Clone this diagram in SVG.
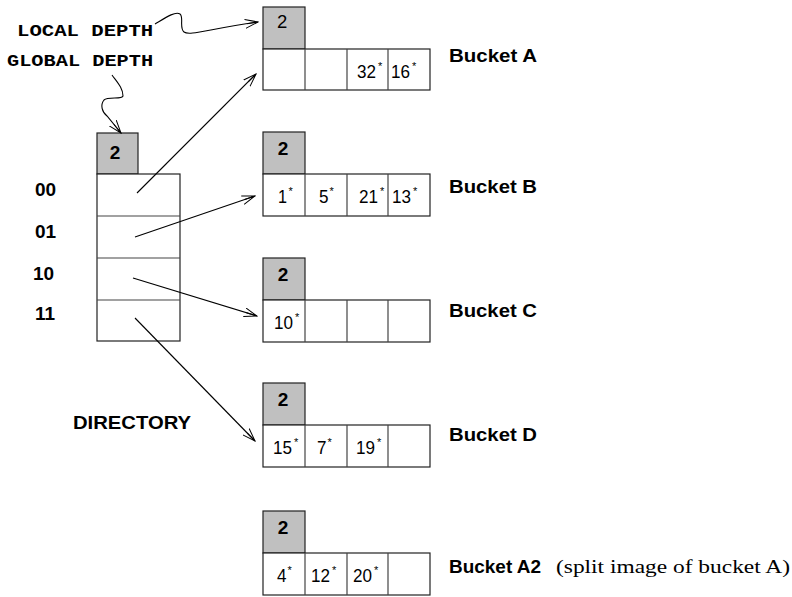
<svg xmlns="http://www.w3.org/2000/svg" width="792" height="597" viewBox="0 0 792 597">
<style>
  .hdr { fill: #c0c0c0; stroke: #222; stroke-width: 1.2; }
  .cell { fill: #fff; stroke: #222; stroke-width: 1.2; }
  .div { stroke: #444; stroke-width: 1.2; }
  .big { font-family: "Liberation Sans", Arial, sans-serif; font-weight: bold; font-size: 19px; fill: #000; }
  .two { font-family: "Liberation Sans", Arial, sans-serif; font-weight: bold; font-size: 19px; fill: #000; text-anchor: middle; }
  .lbl { font-family: "Liberation Sans", Arial, sans-serif; font-weight: bold; font-size: 18px; fill: #000; }
  .num { font-family: "Liberation Sans", Arial, sans-serif; font-size: 18.5px; fill: #000; }
  .ast { font-family: "Liberation Sans", Arial, sans-serif; font-size: 11px; fill: #000; }
  .mono { font-family: "Liberation Mono", "Courier New", monospace; font-weight: bold; font-size: 16px; fill: #000; }
  .serif { font-family: "Liberation Serif", "Times New Roman", serif; font-size: 19px; fill: #000; }
  .conn { fill: none; stroke: #000; stroke-width: 1.1; }
</style>
<defs>
  <marker id="arr" viewBox="0 0 14 10" refX="13" refY="5" markerWidth="14" markerHeight="10" markerUnits="userSpaceOnUse" orient="auto">
    <path d="M0,0.5 L13,5 L0,9.5 M2,5 L13,5" fill="none" stroke="#000" stroke-width="1"/>
  </marker>
</defs>

<!-- labels for depth -->
<g id="label-local-depth">
  <text class="mono" transform="translate(17,36) scale(1.29,1)" x="0" y="0">LOCAL DEPTH</text>
</g>
<g id="label-global-depth">
  <text class="mono" transform="translate(7,66) scale(1.27,1)" x="0" y="0">GLOBAL DEPTH</text>
</g>

<!-- Directory -->
<g id="directory">
  <rect class="hdr" x="97" y="133" width="41" height="41"/>
  <text class="two" x="115" y="159" font-size="20">2</text>
  <rect class="cell" x="97" y="174" width="83" height="167"/>
  <line class="div" x1="97" y1="216" x2="180" y2="216"/>
  <line class="div" x1="97" y1="258" x2="180" y2="258"/>
  <line class="div" x1="97" y1="300" x2="180" y2="300"/>
  <text class="big" x="35" y="196">00</text>
  <text class="big" x="35" y="238">01</text>
  <text class="big" x="33" y="280">10</text>
  <text class="big" x="35" y="320">11</text>
  <text class="lbl" x="73" y="429" textLength="118" lengthAdjust="spacingAndGlyphs">DIRECTORY</text>
</g>

<!-- Bucket A -->
<g id="bucket-a">
  <rect class="hdr" x="263" y="7" width="42" height="42"/>
  <text class="num" x="277" y="28" font-size="21">2</text>
  <rect class="cell" x="263" y="49" width="167" height="41"/>
  <line class="div" x1="305" y1="49" x2="305" y2="90"/>
  <line class="div" x1="347" y1="49" x2="347" y2="90"/>
  <line class="div" x1="388" y1="49" x2="388" y2="90"/>
  <text class="num" x="357" y="78" textLength="19" lengthAdjust="spacingAndGlyphs">32</text><text class="ast" x="378" y="70">*</text>
  <text class="num" x="391" y="78" textLength="19" lengthAdjust="spacingAndGlyphs">16</text><text class="ast" x="412" y="70">*</text>
  <text class="lbl" x="449" y="62" textLength="88" lengthAdjust="spacingAndGlyphs">Bucket A</text>
</g>

<!-- Bucket B -->
<g id="bucket-b">
  <rect class="hdr" x="263" y="132" width="42" height="42"/>
  <text class="two" x="283" y="155">2</text>
  <rect class="cell" x="263" y="174" width="167" height="42"/>
  <line class="div" x1="305" y1="174" x2="305" y2="216"/>
  <line class="div" x1="347" y1="174" x2="347" y2="216"/>
  <line class="div" x1="388" y1="174" x2="388" y2="216"/>
  <text class="num" x="278" y="203" textLength="9" lengthAdjust="spacingAndGlyphs">1</text><text class="ast" x="288.5" y="195">*</text>
  <text class="num" x="319" y="203" textLength="9.5" lengthAdjust="spacingAndGlyphs">5</text><text class="ast" x="329.5" y="195">*</text>
  <text class="num" x="359" y="203" textLength="19" lengthAdjust="spacingAndGlyphs">21</text><text class="ast" x="380" y="195">*</text>
  <text class="num" x="392" y="203" textLength="19" lengthAdjust="spacingAndGlyphs">13</text><text class="ast" x="413" y="195">*</text>
  <text class="lbl" x="449" y="193" textLength="88" lengthAdjust="spacingAndGlyphs">Bucket B</text>
</g>

<!-- Bucket C -->
<g id="bucket-c">
  <rect class="hdr" x="263" y="258" width="42" height="42"/>
  <text class="two" x="283" y="281">2</text>
  <rect class="cell" x="263" y="300" width="167" height="42"/>
  <line class="div" x1="305" y1="300" x2="305" y2="342"/>
  <line class="div" x1="347" y1="300" x2="347" y2="342"/>
  <line class="div" x1="388" y1="300" x2="388" y2="342"/>
  <text class="num" x="274" y="329" textLength="19" lengthAdjust="spacingAndGlyphs">10</text><text class="ast" x="295" y="321">*</text>
  <text class="lbl" x="449" y="317" textLength="88" lengthAdjust="spacingAndGlyphs">Bucket C</text>
</g>

<!-- Bucket D -->
<g id="bucket-d">
  <rect class="hdr" x="263" y="383" width="42" height="42"/>
  <text class="two" x="283" y="406">2</text>
  <rect class="cell" x="263" y="425" width="167" height="42"/>
  <line class="div" x1="305" y1="425" x2="305" y2="467"/>
  <line class="div" x1="347" y1="425" x2="347" y2="467"/>
  <line class="div" x1="388" y1="425" x2="388" y2="467"/>
  <text class="num" x="273" y="454" textLength="19" lengthAdjust="spacingAndGlyphs">15</text><text class="ast" x="294" y="446">*</text>
  <text class="num" x="317" y="454" textLength="9.5" lengthAdjust="spacingAndGlyphs">7</text><text class="ast" x="327.5" y="446">*</text>
  <text class="num" x="356" y="454" textLength="19" lengthAdjust="spacingAndGlyphs">19</text><text class="ast" x="377" y="446">*</text>
  <text class="lbl" x="449" y="441" textLength="88" lengthAdjust="spacingAndGlyphs">Bucket D</text>
</g>

<!-- Bucket A2 -->
<g id="bucket-a2">
  <rect class="hdr" x="263" y="511" width="42" height="42"/>
  <text class="two" x="283" y="534">2</text>
  <rect class="cell" x="263" y="553" width="167" height="42"/>
  <line class="div" x1="305" y1="553" x2="305" y2="595"/>
  <line class="div" x1="347" y1="553" x2="347" y2="595"/>
  <line class="div" x1="388" y1="553" x2="388" y2="595"/>
  <text class="num" x="277" y="582" textLength="9.5" lengthAdjust="spacingAndGlyphs">4</text><text class="ast" x="287.5" y="574">*</text>
  <text class="num" x="311" y="582" textLength="19" lengthAdjust="spacingAndGlyphs">12</text><text class="ast" x="332" y="574">*</text>
  <text class="num" x="353" y="582" textLength="19" lengthAdjust="spacingAndGlyphs">20</text><text class="ast" x="374" y="574">*</text>
  <text class="lbl" x="449" y="573" textLength="92" lengthAdjust="spacingAndGlyphs">Bucket A2</text>
  <text class="serif" x="556" y="573" textLength="234" lengthAdjust="spacingAndGlyphs">(split image of bucket A)</text>
</g>

<!-- Connectors -->
<g id="connectors">
  <path class="conn" marker-end="url(#arr)" d="M155,24 C165,18 175,11 180,14 C184,17 179,28 184,32 C189,36 205,30 258,22"/>
  <path class="conn" marker-end="url(#arr)" d="M112,75 C117,82 123,88 123,96 C122,100 108,96 104,100 C100,105 102,112 107,116 L121,133"/>
  <line class="conn" marker-end="url(#arr)" x1="137" y1="193" x2="256" y2="74"/>
  <line class="conn" marker-end="url(#arr)" x1="135" y1="237" x2="255" y2="196"/>
  <line class="conn" marker-end="url(#arr)" x1="133" y1="278" x2="257" y2="316"/>
  <line class="conn" marker-end="url(#arr)" x1="135" y1="318" x2="255" y2="441"/>
</g>
</svg>
